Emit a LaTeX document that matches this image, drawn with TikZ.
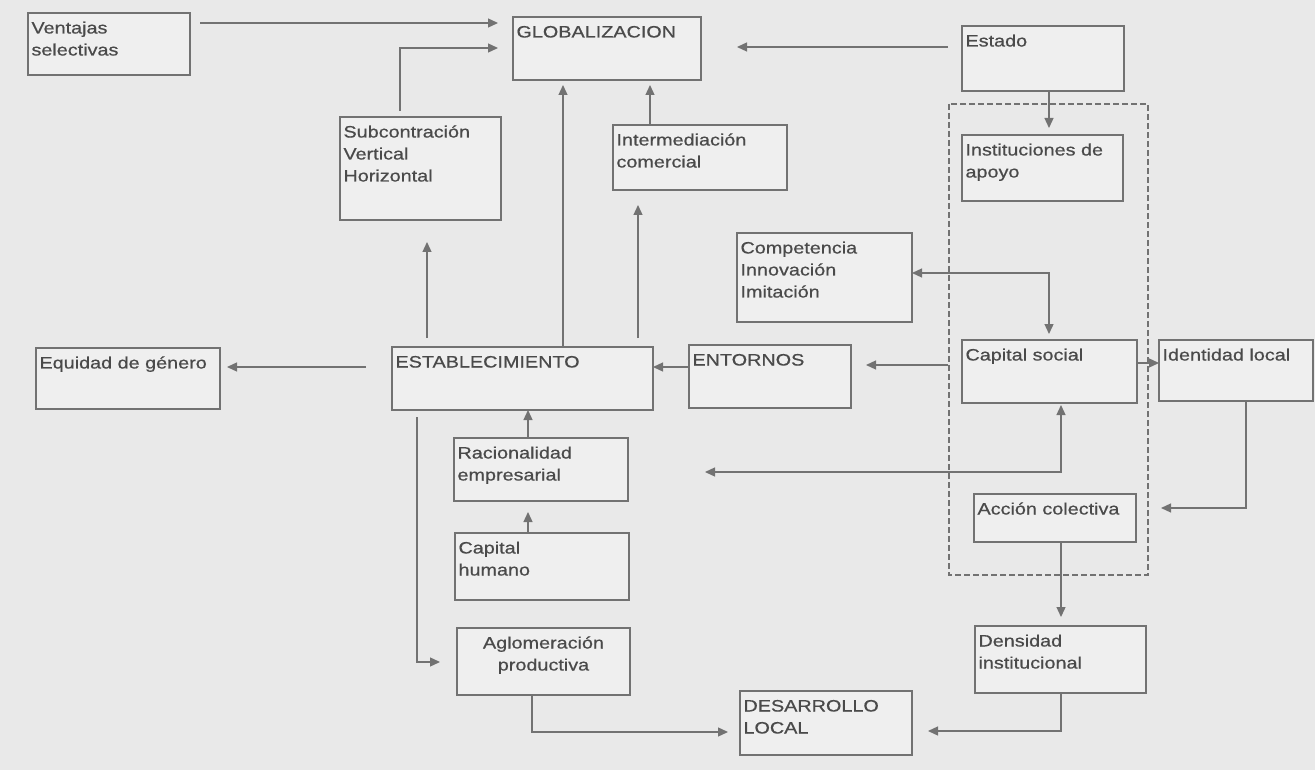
\documentclass[tikz,border=0pt]{standalone}
\usepackage{fontspec}
\setmainfont{Liberation Sans}[FakeStretch=1.2,FakeBold=0.6]
\usetikzlibrary{arrows.meta,calc}
\definecolor{bg}{HTML}{E9E9E9}
\definecolor{boxfill}{HTML}{EFEFEF}
\definecolor{ln}{HTML}{727272}
\definecolor{txt}{HTML}{4A4A4A}
\newcommand\bxfont{\fontsize{16.5}{22}\selectfont\color{txt}}
\newcommand\mkbox[7][\raggedright]{%
  \node[bx] (#2) at (#3,#4) {\parbox[t][#6pt][t]{\dimexpr#5pt-7pt\relax}{\bxfont#1\rule{0pt}{20.5pt}#7}};}
\tikzset{
  bx/.style={draw=ln, line width=1.3pt, fill=boxfill, anchor=north west,
    inner xsep=3.5pt, inner ysep=0pt, outer sep=0pt},
  arr/.style={draw=ln, line width=1.3pt, -{Triangle[length=10pt,width=9pt]}},
  arrtwo/.style={draw=ln, line width=1.3pt, {Triangle[length=10pt,width=9pt]}-{Triangle[length=10pt,width=9pt]}},
  dashbox/.style={draw=ln, line width=1.2pt, dash pattern=on 6pt off 3pt}
}
\begin{document}
\begin{tikzpicture}[x=1pt,y=-1pt]
\useasboundingbox (0,0) rectangle (1315,770);
\fill[bg] (0,0) rectangle (1315,770);
% dashed frame
\draw[dashbox] (949,104) rectangle (1148,575);
% boxes
\mkbox{ven}{28}{13}{162}{62}{Ventajas\\selectivas}
\mkbox{glob}{513}{17}{188}{63}{GLOBALIZACION}
\mkbox{est}{962}{26}{162}{65}{Estado}
\mkbox{inst}{962}{135}{161}{66}{Instituciones de\\apoyo}
\mkbox{sub}{340}{117}{161}{103}{Subcontración\\Vertical\\Horizontal}
\mkbox{inter}{613}{125}{174}{65}{Intermediación\\comercial}
\mkbox{comp}{737}{233}{175}{89}{Competencia\\Innovación\\Imitación}
\mkbox{equi}{36}{348}{184}{61}{Equidad de género}
\mkbox{estab}{392}{347}{261}{63}{ESTABLECIMIENTO}
\mkbox{ent}{689}{345}{162}{63}{ENTORNOS}
\mkbox{cs}{962}{340}{175}{63}{Capital social}
\mkbox{idl}{1159}{340}{154}{61}{Identidad local}
\mkbox{rac}{454}{438}{174}{63}{Racionalidad\\empresarial}
\mkbox{acc}{974}{494}{162}{48}{Acción colectiva}
\mkbox{hum}{455}{533}{174}{67}{Capital\\humano}
\mkbox[\centering]{agl}{457}{628}{173}{67}{Aglomeración\\productiva}
\mkbox{dens}{975}{626}{171}{67}{Densidad\\institucional}
\mkbox{desar}{740}{691}{172}{64}{DESARROLLO\\LOCAL}
% connectors
\draw[arr] ($(ven.north east)+(10,10)$) -- ($(glob.north west)+(-15,6)$);
\draw[arr] ($(sub.north west)+(60,-6)$) |- ($(glob.north west)+(-15,31)$);
\draw[arr] ($(estab.north west)+(171,0)$) -- ($(glob.south west)+(50,5)$);
\draw[arr] ($(inter.north west)+(37,0)$) -- ($(glob.south west)+(137,5)$);
\draw[arr] ($(estab.north west)+(35,-9)$) -- ($(sub.south west)+(87,22)$);
\draw[arr] ($(estab.north west)+(246,-9)$) -- ($(inter.south west)+(25,15)$);
\draw[arr] ($(est.north west)+(-14,21)$) -- ($(glob.north east)+(36,30)$);
\draw[arr] ($(est.south west)+(87,0)$) -- ($(inst.north west)+(87,-7)$);
\draw[arrtwo] ($(comp.north east)+(0,40)$) -| ($(cs.north west)+(87,-6)$);
\draw[arr] ($(cs.north west)+(-14,25)$) -- ($(ent.north east)+(15,20)$);
\draw[arr] ($(ent.north west)+(0,22)$) -- ($(estab.north east)+(0,20)$);
\draw[arr] ($(estab.north west)+(-26,20)$) -- ($(equi.north east)+(7,19)$);
\draw[arr] ($(cs.north east)+(0,23)$) -- ($(idl.north west)+(0,23)$);
\coordinate (lft) at (705,472);
\draw[arrtwo] (lft) -| ($(cs.south west)+(99,2)$);
\draw[arr] ($(idl.south west)+(87,0)$) |- ($(acc.north east)+(25,14)$);
\draw[arr] ($(acc.south west)+(87,0)$) -- ($(dens.north west)+(86,-9)$);
\draw[arr] ($(dens.south west)+(86,0)$) |- ($(desar.north east)+(16,40)$);
\draw[arr] ($(agl.south west)+(75,0)$) |- ($(desar.north west)+(-12,41)$);
\draw[arr] ($(estab.south west)+(25,7)$) |- ($(agl.north west)+(-17,34)$);
\draw[arr] ($(rac.north west)+(74,0)$) -- ($(estab.south west)+(136,0)$);
\draw[arr] ($(hum.north west)+(73,0)$) -- ($(rac.south west)+(74,11)$);
\end{tikzpicture}
\end{document}
